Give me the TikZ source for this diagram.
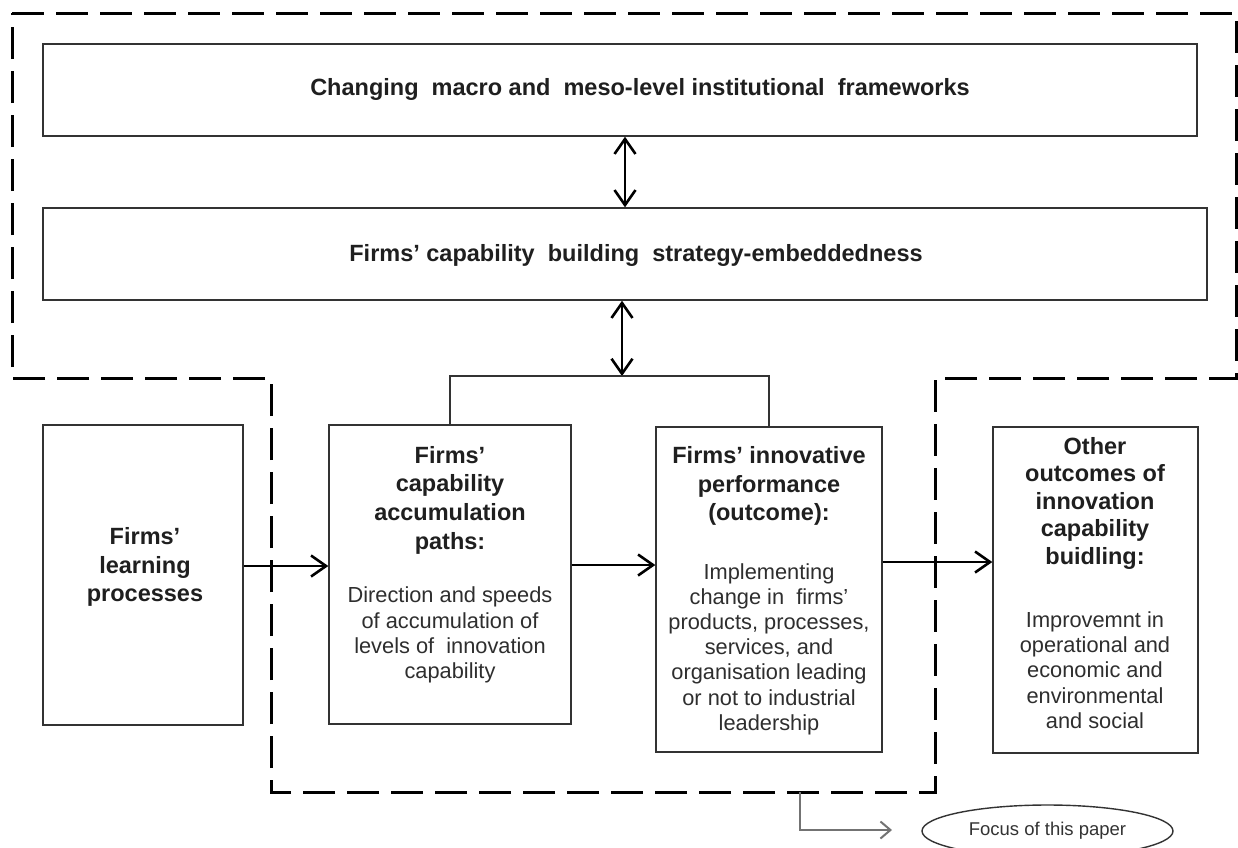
\documentclass[tikz,border=0pt]{standalone}
\usepackage{fontspec}
\setmainfont{Liberation Sans}
\usetikzlibrary{arrows.meta,calc,shapes.geometric}
\begin{document}
\begin{tikzpicture}[x=1pt,y=-1pt,
  box/.style={draw=black!80, line width=1.4pt, inner sep=0pt},
  hd/.style={font=\bfseries\fontsize{23.5}{28.7}\selectfont, align=center, text=black!88, inner sep=0pt},
  bd/.style={font=\fontsize{21.8}{25.2}\selectfont, align=center, text=black!82, inner sep=0pt},
  barb/.tip={Straight Barb[length=15pt,width=21pt,line width=2.6pt]},
  arr/.style={line width=2.5pt, -barb},
  darr/.style={line width=2.5pt, barb-barb},
  link/.style={draw=black!80, line width=1.4pt},
  frame/.style={line width=3pt, dash pattern=on 32pt off 12pt},
]
\useasboundingbox (0,0) rectangle (1238,847);
\fill[white] (0,0) rectangle (1238,847);

% outer dashed frame
\draw[frame] (12,13) -- (1236,13) -- (1236,378) -- (935,378) -- (935,792)
  -- (271,792) -- (271,378) -- (12,378) -- cycle;

% boxes
\node[box, minimum width=1154pt, minimum height=92pt] (macro) at (620,90) {};
\node[box, minimum width=1164pt, minimum height=92pt] (strat) at (625,254) {};
\node[box, minimum width=200pt, minimum height=300pt] (learn) at (143,575) {};
\node[box, minimum width=242pt, minimum height=299pt] (accum) at (450,574.5) {};
\node[box, minimum width=226pt, minimum height=325pt] (innov) at (769,589.5) {};
\node[box, minimum width=205pt, minimum height=326pt] (other) at (1095.5,590) {};

% texts
\node[hd] (t1) at (640,89) {Changing\ \ macro and\ \ meso-level institutional\ \ frameworks};
\node[hd] (t2) at (636,255) {Firms’ capability\ \ building\ \ strategy-embeddedness};
\node[hd] (t3) at (145,567) {Firms’\\learning\\processes};
\node[hd] (t4) at (450,500) {Firms’\\capability\\accumulation\\paths:};
\node[bd] (t5) at (450,635) {Direction and speeds\\of accumulation of\\levels of\ \ innovation\\capability};
\node[hd] (t6) at (769,486) {Firms’ innovative\\performance\\(outcome):};
\node[bd] (t7) at (769,649) {Implementing\\change in\ \ firms’\\products, processes,\\services, and\\organisation leading\\or not to industrial\\leadership};
\node[hd, font=\bfseries\fontsize{23.5}{27.5}\selectfont] (t8) at (1095,503) {Other\\outcomes of\\innovation\\capability\\buidling:};
\node[bd] (t9) at (1095,670) {Improvemnt in\\operational and\\economic and\\environmental\\and social};

% vertical double arrows
\draw[darr] (strat.north |- macro.south) -- (strat.north);
\coordinate (jn) at (622,376);
\draw[darr] (strat.south -| jn) -- (jn);
\draw[link] (accum.north) -- (accum.north |- jn) -- (innov.north |- jn) -- (innov.north);

% horizontal arrows
\coordinate (a1) at (learn.east |- 0,566);
\draw[arr] (a1) -- (a1 -| accum.west);
\coordinate (a2) at (accum.east |- 0,565);
\draw[arr] (a2) -- (a2 -| innov.west);
\coordinate (a3) at (innov.east |- 0,562);
\draw[arr] (a3) -- (a3 -| other.west);

% focus legend
\node[ellipse, draw=black!80, line width=1.4pt, minimum width=251pt, minimum height=52pt, inner sep=0pt,
  font=\fontsize{18.5}{20}\selectfont, text=black!80] (focus) at (1047.5,831) {Focus of this paper};
\coordinate (fs) at (800,792);
\coordinate (fe) at (892,830);
\draw[draw=black!55, line width=2pt, -{Straight Barb[length=10pt,width=17pt,line width=2pt]}] (fs) |- (fe);
\end{tikzpicture}
\end{document}
